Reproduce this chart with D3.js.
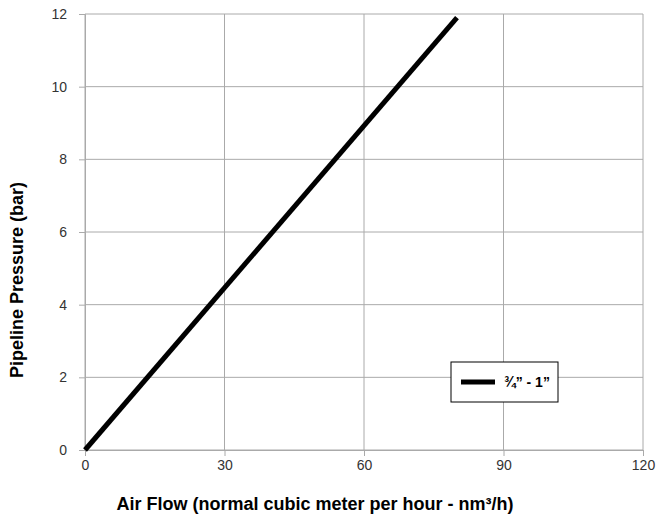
<!DOCTYPE html>
<html>
<head>
<meta charset="utf-8">
<script src="https://cdn.jsdelivr.net/npm/d3@7"></script>
<style>
  body { margin: 0; background: #fff; }
  svg text { font-family: "Liberation Sans", Arial, Helvetica, sans-serif; }
</style>
</head>
<body>
<div id="chartDiv"></div>
<script>
// data
let flowValues = [0, 80];
let pressureValues = [0, 11.9];
let xTicks = [0, 30, 60, 90, 120];
let yTicks = [0, 2, 4, 6, 8, 10, 12];
let seriesName = "\u00BE\u201D - 1\u201D";

let width = 658, height = 522;
let margin = {left: 85, right: 15, top: 14, bottom: 72};

let svg = d3.select("#chartDiv").append("svg")
    .attr("width", width)
    .attr("height", height);

let xScale = d3.scaleLinear()
    .domain([0, 120])
    .range([margin.left, width - margin.right]);

let yScale = d3.scaleLinear()
    .domain([0, 12])
    .range([height - margin.bottom, margin.top]);

let gridGroup = svg.append("g");

// vertical gridlines
gridGroup.selectAll(".vgrid")
    .data(xTicks)
    .enter().append("line")
    .attr("x1", d => xScale(d)).attr("x2", d => xScale(d))
    .attr("y1", yScale(0)).attr("y2", yScale(12))
    .attr("stroke", "#aaa").attr("stroke-width", 1);

// horizontal gridlines
gridGroup.selectAll(".hgrid")
    .data(yTicks)
    .enter().append("line")
    .attr("x1", xScale(0)).attr("x2", xScale(120))
    .attr("y1", d => yScale(d)).attr("y2", d => yScale(d))
    .attr("stroke", "#aaa").attr("stroke-width", 1);

let xAxis = d3.axisBottom(xScale).tickValues(xTicks).tickSize(6).tickPadding(4);
let yAxis = d3.axisLeft(yScale).tickValues(yTicks).tickSize(6).tickPadding(12);

svg.append("g")
    .attr("transform", "translate(0," + yScale(0) + ")")
    .call(xAxis)
    .call(g => g.select(".domain").attr("stroke", "#aaa"))
    .call(g => g.selectAll(".tick line").attr("stroke", "#aaa"))
    .call(g => g.selectAll("text").attr("font-size", 14).attr("fill", "#333"));

svg.append("g")
    .attr("transform", "translate(" + xScale(0) + ",0)")
    .call(yAxis)
    .call(g => g.select(".domain").attr("stroke", "#aaa"))
    .call(g => g.selectAll(".tick line").attr("stroke", "#aaa"))
    .call(g => g.selectAll("text").attr("font-size", 14).attr("fill", "#333"));

// the series line
let valueline = d3.line()
    .x((d, i) => xScale(flowValues[i]))
    .y(d => yScale(d));

svg.append("path")
    .datum(pressureValues)
    .attr("d", valueline)
    .attr("fill", "none")
    .attr("stroke", "#000")
    .attr("stroke-width", 5);

// legend
let legend = svg.append("g").attr("transform", "translate(451,362)");
legend.append("rect")
    .attr("width", 107).attr("height", 40)
    .attr("fill", "#fff").attr("stroke", "#000").attr("stroke-width", 1);
legend.append("line")
    .attr("x1", 10).attr("x2", 44).attr("y1", 20).attr("y2", 20)
    .attr("stroke", "#000").attr("stroke-width", 5);
legend.append("text")
    .attr("x", 53).attr("y", 25)
    .attr("font-size", 14).attr("font-weight", "bold")
    .text(seriesName);

// axis titles
svg.append("text")
    .attr("x", 315)
    .attr("y", 510)
    .attr("text-anchor", "middle")
    .attr("font-size", 18).attr("font-weight", "bold")
    .text("Air Flow (normal cubic meter per hour - nm\u00B3/h)");

svg.append("text")
    .attr("transform", "translate(23,280) rotate(-90)")
    .attr("text-anchor", "middle")
    .attr("font-size", 18).attr("font-weight", "bold")
    .text("Pipeline Pressure (bar)");
</script>
</body>
</html>
